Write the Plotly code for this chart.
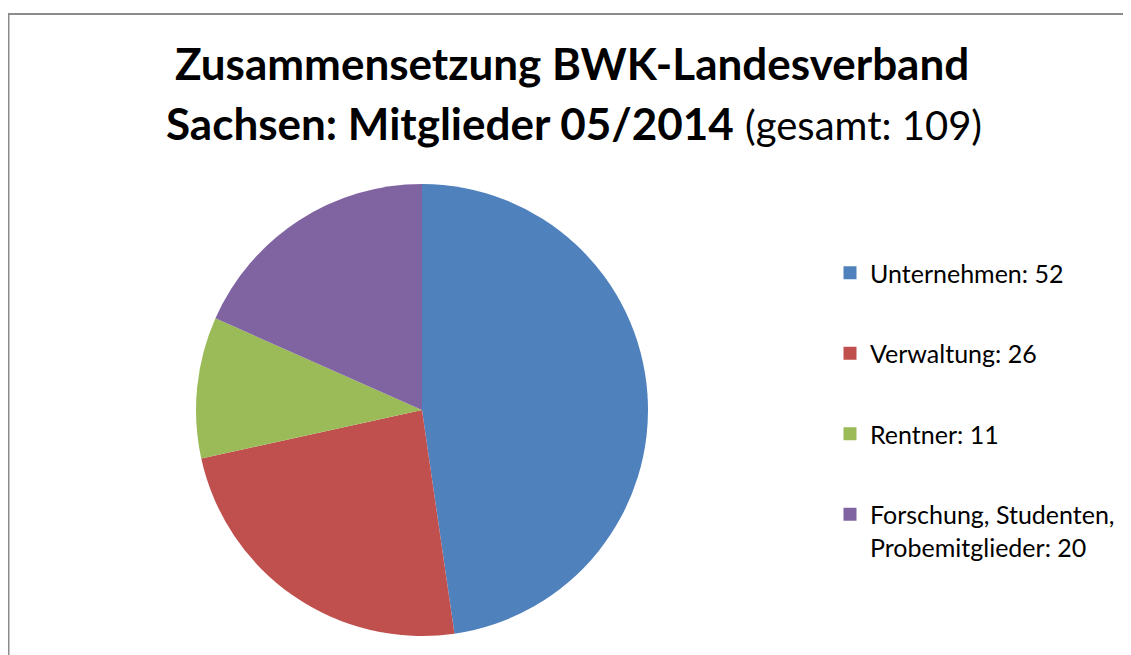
import plotly.graph_objects as go

labels = ["Unternehmen", "Verwaltung", "Rentner", "Forschung, Studenten,<br>Probemitglieder"]
values = [52, 26, 11, 20]
colors = ["#4F81BD", "#C0504D", "#9BBB59", "#8064A2"]
title_line1 = "Zusammensetzung BWK-Landesverband"
title_line2 = "Sachsen: Mitglieder 05/2014"
total = sum(values)

OFF = 8  # page body margin
W, H = 1131 - OFF, 655 - OFF
FONT = "Lato"


def px(x):
    return (x - OFF) / W


def py(y):
    return 1 - (y - OFF) / H


fig = go.Figure()
fig.add_trace(go.Pie(
    labels=labels, values=values, sort=False, direction="clockwise", rotation=0,
    marker=dict(colors=colors, line=dict(width=0)),
    textinfo="none", showlegend=False,
    domain=dict(x=[px(196), px(648)], y=[py(636), py(184)]),
))

for i, (lab, val, col) in enumerate(zip(labels, values, colors)):
    fig.add_trace(go.Scatter(
        x=[None], y=[None], mode="markers",
        marker=dict(symbol="square", size=13, color=col),
        name=f"{lab}: {val}", legendgroup=f"g{i}", showlegend=True,
    ))

fig.add_annotation(
    text=f"<b>{title_line1}</b>",
    x=px(572), y=py(63), xref="paper", yref="paper",
    xanchor="center", yanchor="middle", showarrow=False,
    font=dict(family=FONT, size=44, color="black"),
)
fig.add_annotation(
    text=f"<b>{title_line2}</b> <span style='font-size:40px'>(gesamt: {total})</span>",
    x=px(574), y=py(123), xref="paper", yref="paper",
    xanchor="center", yanchor="middle", showarrow=False,
    font=dict(family=FONT, size=44, color="black"),
)

fig.add_shape(type="rect", xref="paper", yref="paper",
              x0=px(8.5), x1=1.3, y0=-0.3, y1=py(14),
              line=dict(color="#8C8C8C", width=2), fillcolor="rgba(0,0,0,0)", layer="above")

fig.update_layout(
    width=W, height=H,
    margin=dict(l=0, r=0, t=0, b=0),
    paper_bgcolor="white", plot_bgcolor="white",
    font=dict(family=FONT, size=25, color="black"),
    xaxis=dict(visible=False), yaxis=dict(visible=False),
    legend=dict(
        x=px(830), y=py(250), xanchor="left", yanchor="top",
        traceorder="grouped", tracegroupgap=45, valign="top",
        font=dict(family=FONT, size=25, color="black"),
        bgcolor="rgba(0,0,0,0)",
    ),
)

fig.write_html("out.html", config={"displayModeBar": False},
               post_script="document.body.style.overflow='hidden';")
